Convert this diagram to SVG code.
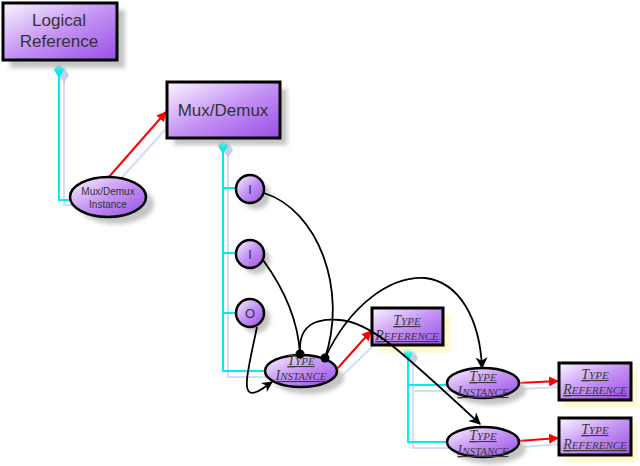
<svg xmlns="http://www.w3.org/2000/svg" width="640" height="466" viewBox="0 0 640 466">
<defs>
<linearGradient id="pg" x1="0" y1="0" x2="1" y2="1">
<stop offset="0" stop-color="#fbf6ff"/>
<stop offset="0.5" stop-color="#c493f4"/>
<stop offset="1" stop-color="#9a4ee6"/>
</linearGradient>
<filter id="blur" x="-20%" y="-20%" width="140%" height="140%"><feGaussianBlur stdDeviation="2"/></filter>
<marker id="ar" viewBox="0 0 10 10" refX="9" refY="5" markerWidth="10" markerHeight="10" markerUnits="userSpaceOnUse" orient="auto"><path d="M0,0 L10,5 L0,10 z" fill="#ff0000"/></marker>
<marker id="ab" viewBox="0 0 10 10" refX="9" refY="5" markerWidth="11" markerHeight="11" markerUnits="userSpaceOnUse" orient="auto"><path d="M0,0 L10,5 L0,10 L3,5 z" fill="#000"/></marker>
<marker id="ab2" viewBox="0 0 10 10" refX="9" refY="5" markerWidth="12" markerHeight="12" markerUnits="userSpaceOnUse" orient="auto"><path d="M0,0 L10,5 L0,10 L3,5 z" fill="#000"/></marker>
</defs>
<style>
.box{fill:url(#pg);stroke:#000;stroke-width:3}
.ell{fill:url(#pg);stroke:#000;stroke-width:2.5}
.sh{fill:#c4c4c4;filter:url(#blur)}
.shy{fill:#fff6c8;filter:url(#blur)}
.cy{fill:none;stroke:#00eeee;stroke-width:2}
.cys{fill:none;stroke:#d4def0;stroke-width:2}
.red{fill:none;stroke:#ff0000;stroke-width:2;marker-end:url(#ar)}
.bl{fill:none;stroke:#000;stroke-width:1.8}
.dia{fill:#00eeee}
.dias{fill:#c4d0e8}
.t1{font-family:"Liberation Sans",Arial,sans-serif;fill:#333;text-anchor:middle}
.ts{font-family:"Liberation Serif","Times New Roman",serif;font-style:italic;text-decoration:underline;fill:#3a3a3a;text-anchor:middle}
.big{font-size:14px}
.sm{font-size:11px}
</style>

<g id="connectors">
<path class="cys" d="M64,72 V205 H72"/>
<path class="cys" d="M228,150 V377 H268"/>
<path class="cys" d="M413,357 V391 H452 M413,391 V448 H452"/>
<path class="cys" d="M118,182 L172,122"/>
<path class="cys" d="M342,376 L377,342"/>
<path class="cys" d="M522,389 L562,387 M522,447 L562,444"/>
<path class="cy" d="M59,70 V200 H71"/>
<path class="cy" d="M223,150 V371 H266 M223,188 H236 M223,253 H236 M223,313 H236"/>
<path class="cy" d="M408,356 V442 H449 M408,385 H449"/>
<path class="dias" d="M64,67 l5,8 l-5,8 l-5,-8 z"/>
<path class="dia" d="M59,62 l5,8 l-5,8 l-5,-8 z"/>
<path class="dias" d="M228,142 l5,8 l-5,8 l-5,-8 z"/>
<path class="dia" d="M223,138 l5,8 l-5,8 l-5,-8 z"/>
<path class="dias" d="M413,350 l5,8 l-5,8 l-5,-8 z"/>
<path class="dia" d="M408,345 l5,8 l-5,8 l-5,-8 z"/>
<path class="red" d="M108,178 L166,112"/>
<path class="red" d="M337,369 L371,331"/>
<path class="red" d="M519,383 L558,381"/>
<path class="red" d="M519,441 L558,438"/>
</g>

<g id="logical-reference">
<rect class="sh" x="10" y="10" width="115" height="58"/>
<rect class="box" x="3" y="3" width="114" height="57"/>
<text class="t1" x="59" y="26" font-size="17">Logical</text>
<text class="t1" x="59" y="47" font-size="17">Reference</text>
</g>

<g id="mux-demux">
<rect class="sh" x="174" y="89" width="113" height="56"/>
<rect class="box" x="167" y="82" width="113" height="56"/>
<text class="t1" x="223" y="116" font-size="17">Mux/Demux</text>
</g>

<g id="mux-demux-instance">
<ellipse class="sh" cx="116" cy="204" rx="38" ry="20"/>
<ellipse class="ell" cx="108" cy="197" rx="38" ry="20"/>
<text class="t1" x="108" y="195" font-size="10">Mux/Demux</text>
<text class="t1" x="108" y="208" font-size="10">Instance</text>
</g>

<g id="port-i1">
<circle class="sh" cx="256" cy="195" r="14"/>
<circle class="ell" cx="250" cy="189" r="14"/>
<text class="t1" x="250" y="194" font-size="13">I</text>
</g>
<g id="port-i2">
<circle class="sh" cx="256" cy="260" r="14"/>
<circle class="ell" cx="250" cy="254" r="14"/>
<text class="t1" x="250" y="259" font-size="13">I</text>
</g>
<g id="port-o">
<circle class="sh" cx="256" cy="319" r="14"/>
<circle class="ell" cx="250" cy="313" r="14"/>
<text class="t1" x="250" y="318" font-size="13">O</text>
</g>

<g id="type-instance-main">
<ellipse class="sh" cx="308" cy="378" rx="36" ry="16"/>
<ellipse class="ell" cx="301" cy="371" rx="36" ry="16"/>
<text class="ts" x="301" y="365"><tspan class="big">T</tspan><tspan class="sm">YPE</tspan></text>
<text class="ts" x="301" y="380"><tspan class="big">I</tspan><tspan class="sm">NSTANCE</tspan></text>
</g>

<g id="type-reference-mid">
<rect class="shy" x="378" y="314" width="72" height="38"/>
<rect class="box" x="372" y="308" width="71" height="37"/>
<text class="ts" x="407" y="325"><tspan class="big">T</tspan><tspan class="sm">YPE</tspan></text>
<text class="ts" x="407" y="340"><tspan class="big">R</tspan><tspan class="sm">EFERENCE</tspan></text>
</g>

<g id="type-instance-upper">
<ellipse class="sh" cx="490" cy="390" rx="36" ry="15"/>
<ellipse class="ell" cx="483" cy="383" rx="36" ry="15"/>
<text class="ts" x="483" y="381"><tspan class="big">T</tspan><tspan class="sm">YPE</tspan></text>
<text class="ts" x="483" y="396"><tspan class="big">I</tspan><tspan class="sm">NSTANCE</tspan></text>
</g>

<g id="type-instance-lower">
<ellipse class="sh" cx="490" cy="449" rx="36" ry="15"/>
<ellipse class="ell" cx="483" cy="442" rx="36" ry="15"/>
<text class="ts" x="483" y="440"><tspan class="big">T</tspan><tspan class="sm">YPE</tspan></text>
<text class="ts" x="483" y="455"><tspan class="big">I</tspan><tspan class="sm">NSTANCE</tspan></text>
</g>

<g id="type-reference-upper">
<rect class="shy" x="565" y="369" width="72" height="38"/>
<rect class="box" x="559" y="363" width="72" height="37"/>
<text class="ts" x="595" y="379"><tspan class="big">T</tspan><tspan class="sm">YPE</tspan></text>
<text class="ts" x="595" y="394"><tspan class="big">R</tspan><tspan class="sm">EFERENCE</tspan></text>
</g>

<g id="type-reference-lower">
<rect class="shy" x="565" y="424" width="72" height="38"/>
<rect class="box" x="559" y="418" width="72" height="37"/>
<text class="ts" x="595" y="434"><tspan class="big">T</tspan><tspan class="sm">YPE</tspan></text>
<text class="ts" x="595" y="449"><tspan class="big">R</tspan><tspan class="sm">EFERENCE</tspan></text>
</g>

<g id="flow-connectors">
<path class="bl" d="M264,193 C318,210 348,290 325,358"/>
<path class="bl" d="M263,260 C285,290 298,320 300,354"/>
<path class="bl" d="M257,327 C248,370 240,398 256,392 C262,390 266,386 272,382" marker-end="url(#ab)"/>
<path class="bl" d="M300,354 C298,325 315,318 340,320 C370,322 400,350 480,424" marker-end="url(#ab2)"/>
<path class="bl" d="M325,358 C350,305 390,276 425,278 C460,282 480,320 482,368" marker-end="url(#ab2)"/>
<circle cx="300" cy="354" r="4.5" fill="#000"/>
<circle cx="325" cy="358" r="4.5" fill="#000"/>
</g>
</svg>
